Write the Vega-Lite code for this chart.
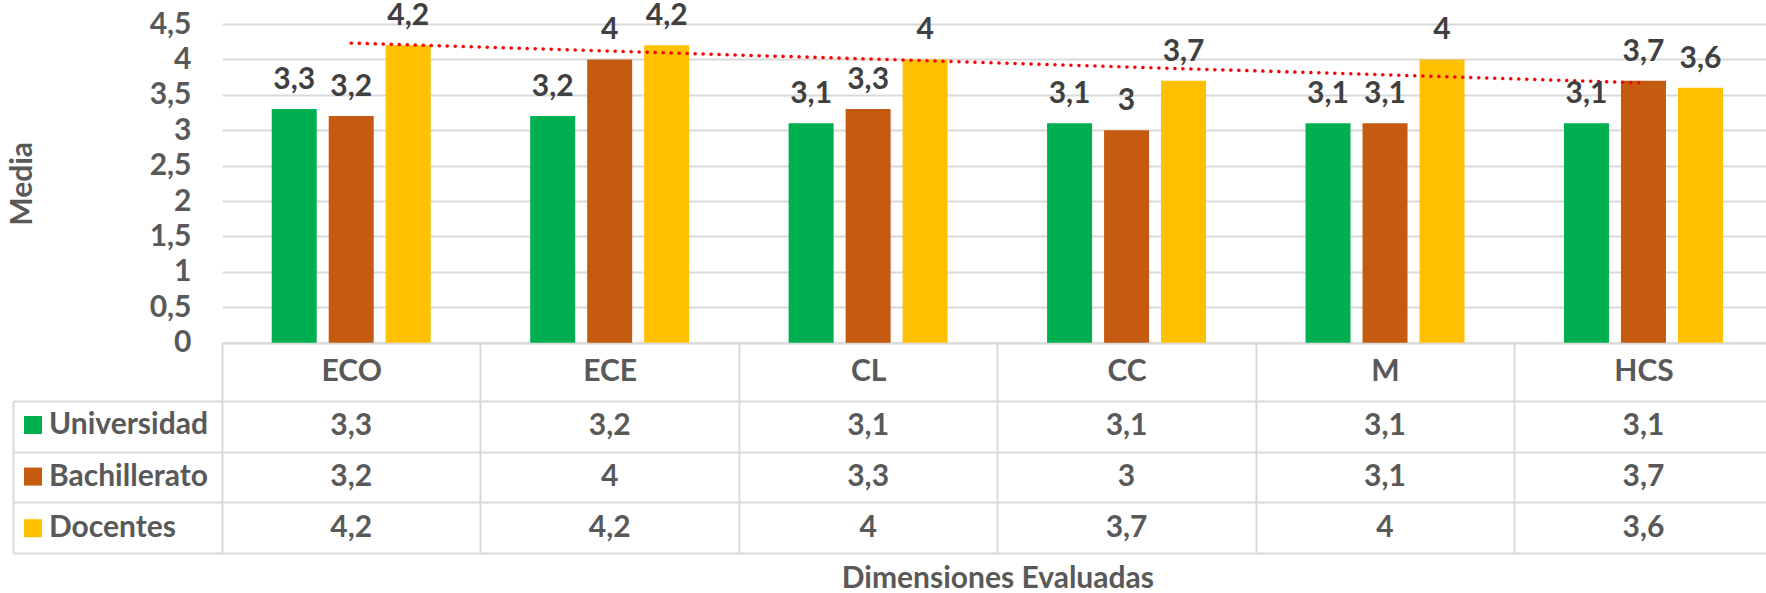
{
  "$schema": "https://vega.github.io/schema/vega-lite/v6.json",
  "width": 1544,
  "height": 318.7,
  "autosize": {"type": "none"},
  "padding": {"left": 222, "top": 24, "right": 0, "bottom": 250.3},
  "background": "white",
  "config": {
    "locale": {"number": {"decimal": ",", "thousands": ".", "grouping": [3], "currency": ["", " €"]}},
    "view": {"stroke": null},
    "font": "Lato",
    "axis": {
      "labelFont": "Lato", "labelFontWeight": "bold", "labelFontSize": 30, "labelColor": "#595959",
      "titleFont": "Lato", "titleFontWeight": "bold", "titleFontSize": 30, "titleColor": "#595959"
    }
  },
  "datasets": {
    "medias": [
      {"dim": "ECO", "grupo": "Universidad", "media": 3.3},
      {"dim": "ECO", "grupo": "Bachillerato", "media": 3.2},
      {"dim": "ECO", "grupo": "Docentes", "media": 4.2},
      {"dim": "ECE", "grupo": "Universidad", "media": 3.2},
      {"dim": "ECE", "grupo": "Bachillerato", "media": 4},
      {"dim": "ECE", "grupo": "Docentes", "media": 4.2},
      {"dim": "CL", "grupo": "Universidad", "media": 3.1},
      {"dim": "CL", "grupo": "Bachillerato", "media": 3.3},
      {"dim": "CL", "grupo": "Docentes", "media": 4},
      {"dim": "CC", "grupo": "Universidad", "media": 3.1},
      {"dim": "CC", "grupo": "Bachillerato", "media": 3},
      {"dim": "CC", "grupo": "Docentes", "media": 3.7},
      {"dim": "M", "grupo": "Universidad", "media": 3.1},
      {"dim": "M", "grupo": "Bachillerato", "media": 3.1},
      {"dim": "M", "grupo": "Docentes", "media": 4},
      {"dim": "HCS", "grupo": "Universidad", "media": 3.1},
      {"dim": "HCS", "grupo": "Bachillerato", "media": 3.7},
      {"dim": "HCS", "grupo": "Docentes", "media": 3.6}
    ],
    "tendencia": [
      {"dim": "ECO", "tendencia": 4.23},
      {"dim": "HCS", "tendencia": 3.67}
    ]
  },
  "data": {"name": "medias"},
  "layer": [
    {
      "mark": {"type": "bar"},
      "encoding": {
        "x": {
          "field": "dim", "type": "nominal",
          "scale": {"type": "band", "domain": ["ECO", "ECE", "CL", "CC", "M", "HCS"], "range": [0, 1550.7], "paddingInner": 0, "paddingOuter": 0},
          "axis": {
            "orient": "bottom", "title": "Dimensiones Evaluadas", "titlePadding": 21,
            "domainColor": "#D9D9D9", "domainWidth": 2,
            "ticks": true, "tickBand": "extent", "tickSize": 210.5, "tickColor": "#D9D9D9", "tickWidth": 2,
            "labelPadding": -181.5, "labelBaseline": "middle", "labelAngle": 0, "grid": false
          }
        },
        "xOffset": {
          "field": "grupo", "type": "nominal",
          "scale": {"domain": ["Universidad", "Bachillerato", "Docentes"], "paddingInner": 0.2105, "paddingOuter": 0.8724}
        },
        "y": {
          "field": "media", "type": "quantitative",
          "scale": {"domain": [0, 4.5], "nice": false, "zero": true},
          "axis": {
            "orient": "left", "title": "Media", "titlePadding": 112,
            "values": [0, 0.5, 1, 1.5, 2, 2.5, 3, 3.5, 4, 4.5], "format": "~g",
            "domain": false, "ticks": false, "labelPadding": 31,
            "grid": true, "gridColor": "#D9D9D9", "gridWidth": 2
          }
        },
        "color": {
          "field": "grupo", "type": "nominal",
          "scale": {"domain": ["Universidad", "Bachillerato", "Docentes"], "range": ["#00B050", "#C55A11", "#FFC000"]},
          "legend": {
            "orient": "none", "legendX": -204, "legendY": 386, "title": null, "direction": "vertical",
            "symbolType": "square", "symbolSize": 324, "symbolStrokeWidth": 0,
            "labelFont": "Lato", "labelFontWeight": "bold", "labelFontSize": 30, "labelColor": "#595959",
            "labelOffset": 1, "rowPadding": 21.6, "padding": 0
          }
        }
      }
    },
    {
      "data": {"name": "tendencia"},
      "mark": {"type": "line", "color": "#FF0000", "strokeWidth": 3.5, "strokeDash": [0.1, 7.9], "strokeCap": "round"},
      "encoding": {
        "x": {"field": "dim", "type": "nominal"},
        "y": {"field": "tendencia", "type": "quantitative", "scale": {"domain": [0, 4.5], "nice": false}, "axis": null}
      }
    },
    {
      "mark": {"type": "text", "baseline": "alphabetic", "dy": -20, "color": "#404040", "font": "Lato", "fontWeight": "bold", "fontSize": 30},
      "encoding": {
        "x": {"field": "dim", "type": "nominal"},
        "xOffset": {"field": "grupo", "type": "nominal"},
        "y": {"field": "media", "type": "quantitative", "scale": {"domain": [0, 4.5], "nice": false}, "axis": null},
        "text": {"field": "media", "type": "quantitative", "format": "~g"}
      }
    },
    {
      "mark": {"type": "text", "baseline": "middle", "color": "#595959", "font": "Lato", "fontWeight": "bold", "fontSize": 30},
      "encoding": {
        "x": {"field": "dim", "type": "nominal"},
        "y": {
          "field": "grupo", "type": "nominal",
          "scale": {"type": "band", "domain": ["Universidad", "Bachillerato", "Docentes"], "range": [376.7, 529.2], "paddingInner": 0, "paddingOuter": 0},
          "axis": {
            "orient": "left", "offset": 209, "title": null, "labels": false,
            "domainColor": "#D9D9D9", "domainWidth": 2,
            "tickBand": "extent", "tickSize": -209, "tickColor": "#D9D9D9", "tickWidth": 2,
            "grid": true, "gridColor": "#D9D9D9", "gridWidth": 2
          }
        },
        "text": {"field": "media", "type": "quantitative", "format": "~g"}
      }
    }
  ],
  "resolve": {"scale": {"y": "independent"}, "axis": {"y": "independent"}}
}
